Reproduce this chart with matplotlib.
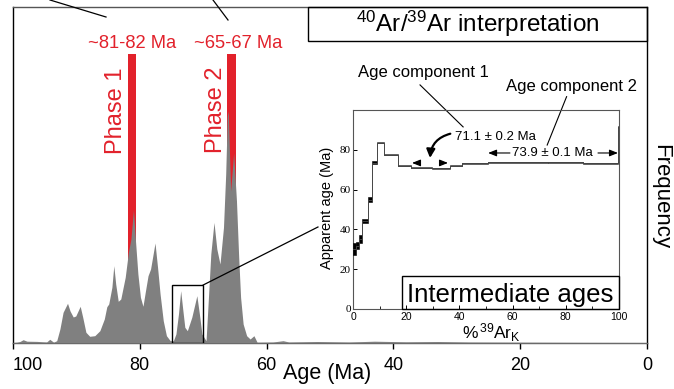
import matplotlib
matplotlib.use('Agg')
import matplotlib.pyplot as plt
from matplotlib.patches import Rectangle, FancyArrowPatch
from matplotlib.lines import Line2D

plt.rcParams['font.family'] = ['Liberation Sans', 'DejaVu Sans']
plt.rcParams['mathtext.fontset'] = 'custom'
plt.rcParams['mathtext.rm'] = 'Liberation Sans'
plt.rcParams['mathtext.it'] = 'Liberation Sans:italic'
plt.rcParams['mathtext.bf'] = 'Liberation Sans:bold'

# ---------------- data: main age-frequency curve ----------------
ages = [100.0, 99.4, 98.9, 98.4, 97.8, 97.0, 96.2, 95.3, 94.7, 94.2, 93.6, 93.1,
        92.6, 92.1, 91.4, 91.0, 90.5, 90.1, 89.4, 89.0, 88.5, 87.9, 87.1, 86.3,
        85.6, 85.2, 84.9, 84.4, 84.1, 83.8, 83.4, 83.0, 82.3, 81.8, 81.4, 81.0,
        80.7, 80.3, 79.9, 79.5, 79.1, 78.7, 78.3, 77.6, 77.2, 76.8, 76.3, 75.8,
        75.2, 74.7, 74.3, 73.9, 73.55, 73.2, 72.9, 72.5, 71.8, 71.0, 70.6, 70.2,
        69.55, 69.2, 68.8, 68.3, 67.85, 67.35, 66.8, 66.45, 66.2, 66.05, 65.67,
        65.2, 64.75, 64.4, 64.1, 63.7, 63.15, 62.6, 62.0, 61.5, 59.0, 57.4, 56.5,
        52.0, 47.0, 43.0, 38.0, 33.0, 28.0, 20.0, 10.0, 0.0]
freq = [0.5, 0.8, 1.5, 3.3, 1.8, 1.7, 1.6, 1.2, 1.0, 3.7, 0.8, 2.3,
        14.0, 30.7, 39.7, 32.0, 26.0, 27.0, 36.7, 25.7, 10.7, 6.7, 7.3, 12.3,
        24.0, 36.3, 39.0, 55.7, 77.3, 59.0, 41.7, 44.0, 65.7, 90.7, 104.0, 133.0,
        104.0, 69.0, 45.7, 36.7, 52.3, 67.3, 74.0, 100.0, 75.7, 49.0, 22.3, 7.3,
        2.3, 2.3, 9.0, 29.0, 52.3, 32.3, 15.7, 12.3, 25.7, 47.3, 29.0, 9.0,
        2.3, 42.3, 89.0, 120.6, 94.0, 79.0, 115.6, 169.0, 227.0, 232.0, 152.0,
        190.0, 142.0, 85.6, 45.6, 19.0, 7.3, 4.0, 7.3, 0.8, 1.0, 2.3, 1.0,
        1.5, 1.0, 1.8, 1.2, 1.5, 1.0, 0.8, 0.6, 0.5]

main_xticks = [100, 80, 60, 40, 20, 0]
phase_names = ['Phase 1', 'Phase 2']
phase_age_text = ['~81-82 Ma', '~65-67 Ma']
phase_ranges = [(80.6, 81.8), (64.85, 66.2)]
zoom_range = (70, 75)

# ---------------- data: inset age spectrum ----------------
step_pct = [0, 1.0, 2.3, 3.5, 5.8, 7.3, 9.1, 11.7, 16.8, 21.8, 29.6, 36.5,
            41.0, 50.9, 73.4, 86.5, 99.5, 100]
step_age = [30.2, 31.9, 35.1, 44.1, 55.0, 73.6, 83.5, 77.6, 72.0, 71.0, 70.7,
            72.0, 73.2, 73.7, 73.7, 73.2, 91.6]
step_err = [3.1, 1.9, 2.1, 1.0, 1.3, 0.9, 0.3, 0.3, 0.3, 0.3, 0.4, 0.3,
            0.3, 0.3, 0.3, 0.3, 0.5]
inset_xticks = [0, 20, 40, 60, 80, 100]
inset_yticks = [0, 20, 40, 60, 80]
plateau1 = '71.1 ± 0.2 Ma'
plateau2 = '73.9 ± 0.1 Ma'

GREY = '#808080'
RED = '#e2212b'

W, H = 674, 389
fig = plt.figure(figsize=(W / 100, H / 100), dpi=100)


def fx(x):
    return x / W


def fy(y):
    return 1 - y / H


# ---------------- main axes ----------------
ax = fig.add_axes([fx(13), fy(343), (647 - 13) / W, (343 - 7) / H])
ax.set_xlim(100, 0)
ax.set_ylim(0, 336)
ax.fill_between(ages, freq, 0, color=GREY, lw=0, zorder=3)
for (a0, a1) in phase_ranges:
    ax.bar((a0 + a1) / 2, 289, width=a1 - a0, color=RED, lw=0, zorder=2)
ax.add_patch(Rectangle((zoom_range[0], 0), zoom_range[1] - zoom_range[0], 58,
                       fill=False, ec='black', lw=1.0, zorder=4))
ax.plot([zoom_range[0], 51.9], [58, 116], color='black', lw=0.9, zorder=4)

ax.set_xticks(main_xticks)
ax.set_xticklabels([str(t) for t in main_xticks])
ax.set_yticks([])
ax.tick_params(axis='x', direction='out', length=4, width=1, labelsize=13, pad=6)
ax.get_xticklabels()[0].set_ha('left')
for s in ['left', 'right']:
    ax.spines[s].set_color('black')
    ax.spines[s].set_linewidth(1.0)
ax.spines['top'].set_color('#555555')
ax.spines['top'].set_linewidth(1.0)
ax.spines['bottom'].set_color('#555555')
ax.spines['bottom'].set_linewidth(1.0)

fig.text(fx(327), fy(379), 'Age (Ma)', ha='center', va='baseline', fontsize=15.5)
fig.text(fx(661), fy(197), 'Frequency', ha='center', va='center', rotation=270, fontsize=16)

# phase labels
fig.text(fx(132.5), fy(43), phase_age_text[0], color=RED, ha='center', va='center', fontsize=13.2)
fig.text(fx(238.3), fy(43), phase_age_text[1], color=RED, ha='center', va='center', fontsize=13.2)
fig.text(fx(115.5), fy(111), phase_names[0], color=RED, ha='center', va='center', rotation=90, fontsize=17)
fig.text(fx(215.5), fy(110), phase_names[1], color=RED, ha='center', va='center', rotation=90, fontsize=17)

# lines coming from outside on top
fig.add_artist(Line2D([fx(50), fx(106)], [fy(0), fy(17)], color='black', lw=0.9))
fig.add_artist(Line2D([fx(213), fx(228)], [fy(0), fy(20)], color='black', lw=0.9))

# title box
fig.add_artist(Rectangle((fx(308), fy(41)), fx(647) - fx(308), fy(7) - fy(41),
                         transform=fig.transFigure, fill=False, ec='black', lw=1.0))
fig.text(fx(477.5), fy(24), r'$^{40}$Ar/$^{39}$Ar interpretation', ha='center', va='center',
         fontsize=17.5)

# ---------------- inset ----------------
ax2 = fig.add_axes([fx(353), fy(309), 266 / W, 199 / H])
ax2.set_xlim(0, 100)
ax2.set_ylim(0, 100)
for i in range(len(step_age)):
    p0, p1 = step_pct[i], step_pct[i + 1]
    a, e = step_age[i], step_err[i]
    col = 'black' if e >= 0.8 else '#3a3a3a'
    ax2.add_patch(Rectangle((p0, a - e), p1 - p0, 2 * e, fc=col, ec=col, lw=0.4, zorder=3))
ax2.step(step_pct, step_age + [step_age[-1]], where='post', color='#444444', lw=0.7, zorder=3)

ax2.set_xticks(inset_xticks)
ax2.set_yticks(inset_yticks)
ax2.set_xticks([10, 30, 50, 70, 90], minor=True)
ax2.tick_params(axis='both', direction='in', length=3, width=0.7, labelsize=7.5)
ax2.tick_params(axis='x', which='minor', direction='in', length=2, width=0.6)
ax2.tick_params(axis='x', pad=2)
ax2.tick_params(axis='y', pad=1.5)
for lab in ax2.get_yticklabels():
    lab.set_fontfamily('Liberation Serif')
    lab.set_fontsize(8)
for s in ax2.spines.values():
    s.set_color('#555555')
    s.set_linewidth(0.8)

fig.text(fx(327), fy(208), 'Apparent age (Ma)', ha='center', va='center', rotation=90, fontsize=10.5)
fig.text(fx(491), fy(339), r'%$^{\,39}$Ar$_{\mathrm{K}}$', ha='center', va='baseline', fontsize=12.5)

# intermediate ages box
ax2.add_patch(Rectangle((18.4, 0), 81.6, 16.6, fill=False, ec='black', lw=1.0, zorder=5,
                        clip_on=False))
fig.text(fx(510.5), fy(302), 'Intermediate ages', ha='center', va='baseline', fontsize=18.5)

# annotations
fig.text(fx(423), fy(73), 'Age component 1', ha='center', va='center', fontsize=12)
fig.text(fx(571.7), fy(86), 'Age component 2', ha='center', va='center', fontsize=12)
ax2.plot([25.2, 41.4], [112.6, 91.5], color='black', lw=0.8, clip_on=False)
ax2.plot([80.3, 73.0], [106.7, 82.4], color='black', lw=0.8, clip_on=False)
ax2.text(38.3, 86.4, plateau1, ha='left', va='center', fontsize=9.5)
ax2.text(59.8, 78.4, plateau2, ha='left', va='center', fontsize=9.5)

ax2.add_patch(FancyArrowPatch((37.6, 88.4), (28.9, 74.5), connectionstyle='arc3,rad=0.4',
                              arrowstyle='-|>,head_length=5,head_width=2.5', lw=1.6,
                              color='black', clip_on=False, zorder=6))
for tail, tip in [((25.2, 73.4), (22.2, 73.4)), ((32.7, 73.4), (35.7, 73.4)),
                  ((59.0, 78.4), (50.8, 78.4)), ((92.1, 78.4), (99.6, 78.4))]:
    ax2.add_patch(FancyArrowPatch(tail, tip, arrowstyle='-|>,head_length=5,head_width=2',
                                  lw=0.8, color='black', clip_on=False, zorder=6,
                                  shrinkA=0, shrinkB=0))

fig.savefig('out.png', dpi=100)
